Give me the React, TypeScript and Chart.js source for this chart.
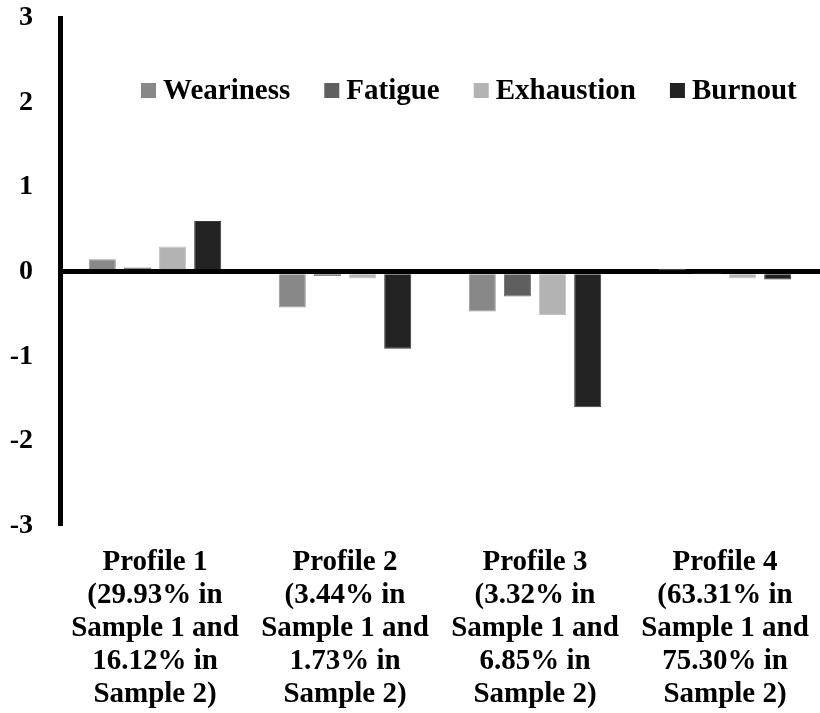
import React, { useEffect, useRef } from "react";
import { Chart, registerables } from "chart.js";

Chart.register(...registerables);

const categories: string[][] = [
  ["Profile 1", "(29.93% in", "Sample 1 and", "16.12% in", "Sample 2)"],
  ["Profile 2", "(3.44% in", "Sample 1 and", "1.73% in", "Sample 2)"],
  ["Profile 3", "(3.32% in", "Sample 1 and", "6.85% in", "Sample 2)"],
  ["Profile 4", "(63.31% in", "Sample 1 and", "75.30% in", "Sample 2)"],
];

const weariness = [0.15, -0.42, -0.47, 0.02];
const fatigue = [0.05, -0.05, -0.29, -0.02];
const exhaustion = [0.3, -0.08, -0.51, -0.08];
const burnout = [0.6, -0.91, -1.6, -0.09];

const seriesNames = ["Weariness", "Fatigue", "Exhaustion", "Burnout"];
const seriesColors = ["#888888", "#5f5f5f", "#b3b3b3", "#222222"];
const seriesBorders = ["#9a9a9a", "#707070", "#c4c4c4", "#3a3a3a"];

const FONT = "'Times New Roman', 'Liberation Serif', serif";

const legendPlugin = {
  id: "customLegend",
  afterDraw(chart: any) {
    const ctx = chart.ctx;
    const area = chart.chartArea;
    ctx.save();
    ctx.font = `bold 29px ${FONT}`;
    ctx.textBaseline = "middle";
    ctx.textAlign = "left";
    let x = area.left + 81;
    const y = area.top + 72.5;
    seriesNames.forEach((name, i) => {
      ctx.fillStyle = seriesColors[i];
      ctx.fillRect(x, y - 7.5, 15, 15);
      x += 15 + 7;
      ctx.fillStyle = "#000";
      ctx.fillText(name, x, y + 1);
      x += ctx.measureText(name).width + 34;
    });
    ctx.restore();
  },
};

export default function App() {
  const ref = useRef<HTMLCanvasElement | null>(null);
  useEffect(() => {
    if (!ref.current) return;
    const data = [weariness, fatigue, exhaustion, burnout];
    const chart = new Chart(ref.current, {
      type: "bar",
      data: {
        labels: categories,
        datasets: seriesNames.map((name, i) => ({
          label: name,
          data: data[i],
          backgroundColor: seriesColors[i],
          borderColor: seriesBorders[i],
          borderWidth: 1,
          categoryPercentage: 0.74,
          barPercentage: 0.77,
        })),
      },
      options: {
        animation: false,
        responsive: false,
        maintainAspectRatio: false,
        layout: { padding: { left: 0, right: 0, top: 18, bottom: -18 } },
        plugins: {
          legend: { display: false },
          tooltip: { enabled: false },
        },
        scales: {
          x: {
            grid: { display: false, drawTicks: false },
            border: { display: false },
            afterFit: (s: any) => {
              s.paddingLeft = 0;
              s.paddingRight = 0;
            },
            ticks: {
              color: "#000",
              padding: 20,
              maxRotation: 0,
              autoSkip: false,
              font: { family: FONT, size: 29, weight: "bold", lineHeight: 1.14 },
            },
          },
          y: {
            min: -3,
            max: 3,
            z: 1,
            afterFit: (s: any) => {
              s.width = 60;
              s.paddingTop = 0;
              s.paddingBottom = 0;
            },
            ticks: {
              stepSize: 1,
              color: "#000",
              padding: 27,
              font: { family: FONT, size: 28, weight: "bold" },
            },
            grid: {
              drawTicks: false,
              color: (c: any) => (c.tick && c.tick.value === 0 ? "#000" : "rgba(0,0,0,0)"),
              lineWidth: (c: any) => (c.tick && c.tick.value === 0 ? 5 : 0),
            },
            border: { display: true, color: "#000", width: 5 },
          },
        },
      },
      plugins: [legendPlugin],
    });
    return () => chart.destroy();
  }, []);
  return (
    <div style={{ position: "fixed", left: 0, top: 0, width: 820, height: 713, background: "#fff" }}>
      <canvas ref={ref} width={820} height={713} style={{ width: 820, height: 713 }} />
    </div>
  );
}
